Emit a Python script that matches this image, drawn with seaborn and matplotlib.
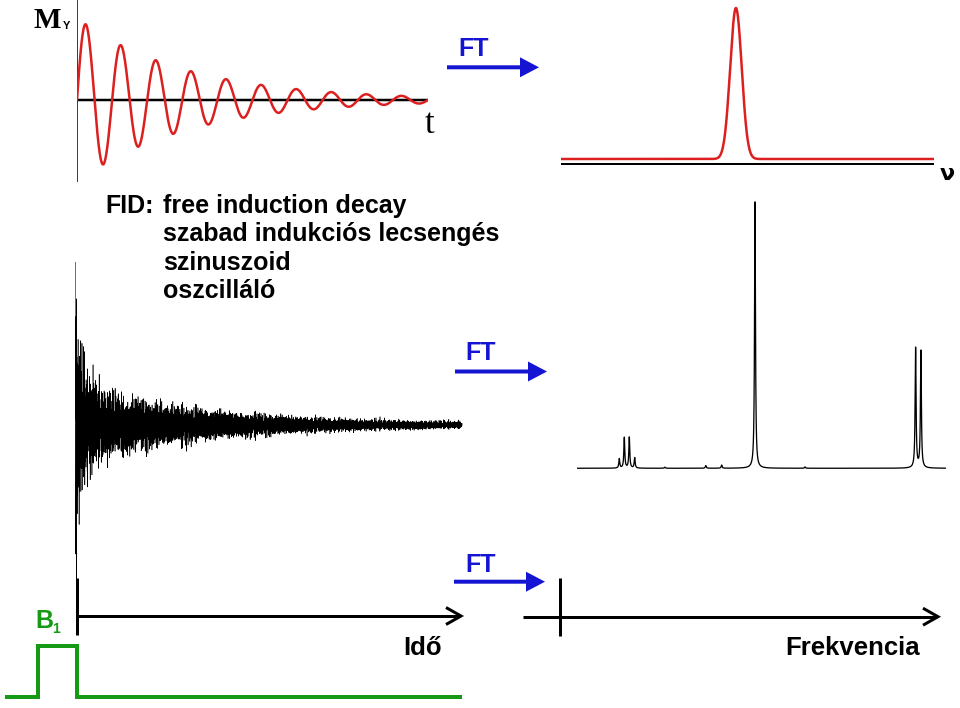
import numpy as np
import pandas as pd
import matplotlib
matplotlib.use("Agg")
import matplotlib.pyplot as plt
import seaborn as sns

# ------------------------------------------------------------------ data
# top-left: single damped oscillation of M_Y
osc_amplitude = 82.0      # initial amplitude (a.u.)
osc_periods = 10.0        # periods shown
osc_decay = 3.1           # decay constant in periods

# top-right: its spectrum (one line)
line1_center = 46.9
line1_sigma = 1.55
line1_height = 151.0

# middle: FID components of a real sample (frequency Hz, amplitude, T2 s, phase rad)
fid_freq = [1013.0, 1297.0, 1571.0, 1889.0, 2203.0,
            877.0, 1153.0, 1433.0, 1741.0, 2011.0, 2377.0,
            1231.0, 1657.0, 2113.0,
            600.0]
fid_amp = [30.0, 26.0, 22.0, 19.0, 16.0,
           13.0, 11.0, 10.0, 9.0, 8.0, 6.0,
           1.6, 1.5, 1.3,
           150.0]
fid_t2 = [0.045, 0.045, 0.045, 0.045, 0.045,
          0.35, 0.35, 0.35, 0.35, 0.35, 0.35,
          2.5, 2.5, 2.5,
          0.004]
fid_phase = [0.3, 2.1, 4.0, 1.2, 5.3,
             0.8, 3.3, 5.9, 2.6, 4.4, 1.7,
             0.5, 3.8, 2.2,
             0.0]
fid_length = 1.0  # s

# bottom-right: NMR spectrum peaks (position, relative height)
peak_pos = [1.146, 1.282, 1.417, 1.563, 2.38, 3.49, 3.92, 4.824, 6.18, 9.176, 9.320]
peak_height = [3.5, 11.5, 11.6, 3.9, 0.4, 1.0, 1.2, 100.0, 0.5, 45.0, 43.9]
peak_hwhm = 0.015

# B1 pulse
pulse_t = [-1.83, -1.0, -1.0, 0.0, 0.0, 9.79]
pulse_b1 = [0.0, 0.0, 1.0, 1.0, 0.0, 0.0]

caption_head = "FID:"
caption_lines = ["free induction decay", "szabad indukciós lecsengés",
                 "szinuszoid", "oszcilláló"]
ft_label = "FT"
time_label = "Idő"
freq_label = "Frekvencia"

# ------------------------------------------------------------------ style
sns.set_style("white")
plt.rcParams['font.family'] = ['Liberation Sans', 'DejaVu Sans']
plt.rcParams['text.color'] = 'black'

W, H = 960, 708
fig = plt.figure(figsize=(W / 100, H / 100), dpi=100)
fig.patch.set_facecolor("white")


def px_axes(x0, y0, x1, y1):
    ax = fig.add_axes([x0 / W, 1 - y1 / H, (x1 - x0) / W, (y1 - y0) / H])
    ax.set_axis_off()
    ax.patch.set_alpha(0)
    return ax


def lw(px):
    return px * 0.72


RED = "#dc2020"
BLUE = "#1414d2"
GREEN = "#169a16"

# ---- top-left damped sine
axA = px_axes(77, 0, 428, 182)
t = np.linspace(0, osc_periods, 2000)
dfA = pd.DataFrame({"t": t, "m": osc_amplitude * np.exp(-t / osc_decay) * np.sin(2 * np.pi * t)})
axA.axhline(0, color="black", lw=lw(2.5), zorder=1)
axA.axvline(0, color="black", lw=lw(1.5), zorder=1)
sns.lineplot(data=dfA, x="t", y="m", ax=axA, color=RED, lw=lw(2.5), estimator=None, sort=False, zorder=2)
axA.set_xlim(0, osc_periods)
axA.set_ylim(-82, 100)
axA.set_axis_off()

# ---- top-right single line spectrum
axB = px_axes(561, 0, 934, 170)
nu = np.linspace(0, 100, 3000)
dfB = pd.DataFrame({"nu": nu, "s": line1_height * np.exp(-0.5 * ((nu - line1_center) / line1_sigma) ** 2)})
axB.axhline(-5, color="black", lw=lw(2), zorder=1)
sns.lineplot(data=dfB, x="nu", y="s", ax=axB, color=RED, lw=lw(2.5), estimator=None, sort=False, zorder=2)
axB.set_xlim(0, 100)
axB.set_ylim(-11, 159)
axB.set_axis_off()

# ---- middle FID
axC = px_axes(75.5, 250, 462, 575)
tt = np.linspace(0, fid_length, 30000)
sig = np.zeros_like(tt)
for f, a, t2, ph in zip(fid_freq, fid_amp, fid_t2, fid_phase):
    sig += a * np.cos(2 * np.pi * f * tt + ph) * np.exp(-tt / t2)
dfC = pd.DataFrame({"t": tt, "s": sig})
sns.lineplot(data=dfC, x="t", y="s", ax=axC, color="black", lw=0.4, estimator=None, sort=False)
for l in axC.get_lines():
    l.set_clip_on(False)
axC.set_xlim(0, fid_length)
axC.set_ylim(-150, 175)
axC.set_axis_off()

# ---- bottom-right NMR spectrum
axD = px_axes(577, 190, 946, 480)
x = np.linspace(0, 10, 8000)
spec = np.zeros_like(x)
for p, h in zip(peak_pos, peak_height):
    spec += h / (1 + ((x - p) / peak_hwhm) ** 2)
dfD = pd.DataFrame({"x": x, "s": spec})
sns.lineplot(data=dfD, x="x", y="s", ax=axD, color="black", lw=lw(1.3), estimator=None, sort=False)
axD.set_xlim(0, 10)
axD.set_ylim(-4.4, 104.4)
axD.set_axis_off()

# ---- B1 pulse
axE = px_axes(5, 640, 461.7, 703)
dfE = pd.DataFrame({"t": pulse_t, "b": pulse_b1})
sns.lineplot(data=dfE, x="t", y="b", ax=axE, color=GREEN, lw=lw(4), estimator=None, sort=False)
for l in axE.get_lines():
    l.set_solid_joinstyle("miter")
    l.set_solid_capstyle("butt")
    l.set_clip_on(False)
axE.set_xlim(pulse_t[0], pulse_t[-1])
axE.set_ylim(-0.111, 1.117)
axE.set_axis_off()

# ---- overlay (annotations in pixel space)
ov = px_axes(0, 0, W, H)
ov.set_xlim(0, W)
ov.set_ylim(H, 0)


def chevron_axis(x0, x1, y, tick_x, tick_y0, tick_y1):
    ov.plot([x0, x1 - 1], [y, y], color="black", lw=lw(3), solid_capstyle="butt")
    ov.plot([x1 - 15, x1, x1 - 15], [y - 8.5, y, y + 8.5], color="black", lw=lw(3),
            solid_joinstyle="miter", solid_capstyle="butt")
    ov.plot([tick_x, tick_x], [tick_y0, tick_y1], color="black", lw=lw(3), solid_capstyle="butt")


chevron_axis(77, 461, 616, 77, 578, 635)
chevron_axis(523, 938, 616.7, 560, 578, 636)


def ft_arrow(tx, ty, x0, x1, y):
    ov.text(tx, ty, ft_label, color=BLUE, fontsize=18, fontweight="bold", ha="left", va="baseline")
    ov.arrow(x0, y, x1 - x0, 0, width=4, head_width=20, head_length=19,
             length_includes_head=True, color=BLUE, lw=0)


ft_arrow(458, 56, 447, 539, 67.3)
ft_arrow(465, 360, 455, 547, 371.5)
ft_arrow(465, 572, 454, 545, 581.7)

# captions
ov.text(105, 213, caption_head, fontsize=18, fontweight="bold", ha="left", va="baseline", color="black")
for yb, s in zip([213, 241.5, 270, 298.5], caption_lines):
    ov.text(163, yb, s, fontsize=18, fontweight="bold", ha="left", va="baseline", color="black")

ov.text(403, 655, time_label, fontsize=18.5, fontweight="bold", ha="left", va="baseline", color="black")
ov.text(920, 655, freq_label, fontsize=18.5, fontweight="bold", ha="right", va="baseline", color="black")

ov.text(35, 628, "B", color=GREEN, fontsize=18, fontweight="bold", ha="left", va="baseline")
ov.text(52, 633, "1", color=GREEN, fontsize=10, fontweight="bold", ha="left", va="baseline")

ov.text(33, 28, "M", family=["Liberation Serif", "DejaVu Serif"], fontsize=21,
        fontweight="bold", ha="left", va="baseline", color="black")
ov.text(63, 29, "Y", fontsize=8, fontweight="bold", ha="left", va="baseline", color="black")
ov.text(425, 133, "t", family=["Liberation Serif", "DejaVu Serif"], fontsize=25,
        ha="left", va="baseline", color="black")
ov.text(947, 180, "ν", family=["DejaVu Sans"], fontsize=16, fontweight="bold",
        ha="center", va="baseline", color="black", clip_on=False)

fig.savefig("out.png", dpi=100)
